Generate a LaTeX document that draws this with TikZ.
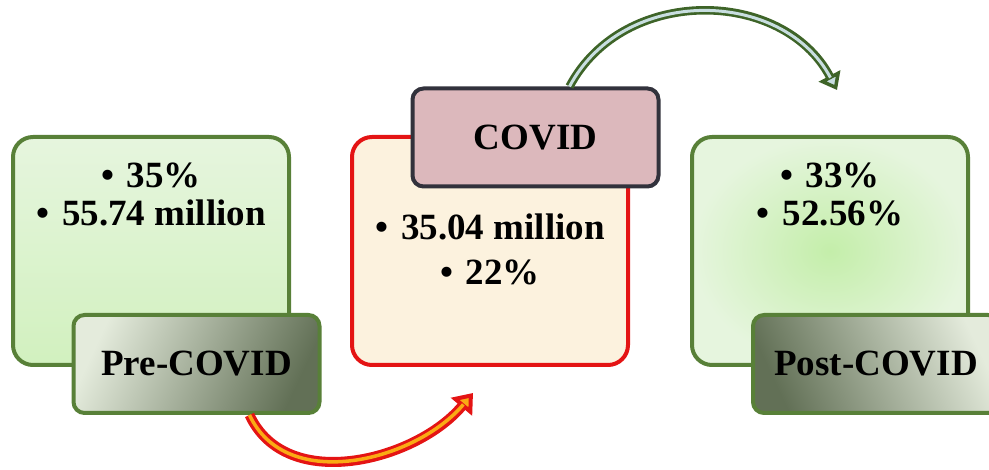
\documentclass[tikz,border=0pt]{standalone}
\usepackage{fontspec}
\setmainfont{Liberation Serif}
\usepackage{tikz}
\usetikzlibrary{arrows.meta}

\definecolor{boxgreen}{RGB}{88,128,56}
\definecolor{lightgreen}{RGB}{230,245,222}
\definecolor{midgreen}{RGB}{196,238,170}
\definecolor{labdark}{RGB}{98,112,86}
\definecolor{lablight}{RGB}{228,235,220}
\definecolor{covidred}{RGB}{228,20,20}
\definecolor{cream}{RGB}{252,242,222}
\definecolor{rose}{RGB}{220,184,188}
\definecolor{slate}{RGB}{50,50,60}
\definecolor{arrowgreen}{RGB}{62,100,40}
\definecolor{paleblue}{RGB}{200,222,224}
\definecolor{innerorange}{RGB}{250,170,20}

\newcommand{\bul}{•\hspace{0.35em}}

\begin{document}
\begin{tikzpicture}[x=1pt,y=1pt,
  txt/.style={font=\bfseries\fontsize{37}{38}\selectfont, align=center},
  bigbox/.style={rounded corners=20pt, minimum width=276pt, minimum height=228pt, line width=4pt},
  labbox/.style={rounded corners=11pt, minimum width=246pt, minimum height=98pt, line width=4pt, inner sep=0pt, txt}]
\useasboundingbox (0,0) rectangle (989,470);
\clip (0,0) rectangle (989,470);

% before
\node[bigbox, draw=boxgreen, top color=lightgreen, bottom color=midgreen!60!lightgreen] (prebox) at (151,219) {};
\node[txt] (pretext) at (151,276) {\bul 35\%\\\bul 55.74 million};
\node[labbox, draw=boxgreen, left color=lablight, middle color=lablight!85!labdark, right color=labdark, shading angle=65] (prelab) at (196.5,106) {Pre-COVID};

% during
\node[bigbox, draw=covidred, fill=cream] (covidbox) at (490,219) {};
\node[txt] (covidtext) at (490,221) {\bul 35.04 million\\[7pt]\bul 22\%};
\node[labbox, draw=slate, fill=rose] (covidlab) at (535.5,332.5) {COVID};

% after
\node[bigbox, draw=boxgreen, inner color=midgreen, outer color=lightgreen] (postbox) at (830,219) {};
\node[txt] (posttext) at (830,276) {\bul 33\%\\\bul 52.56\%};
\node[labbox, draw=boxgreen, left color=labdark, middle color=lablight!85!labdark, right color=lablight, shading angle=115] (postlab) at (876,106) {Post-COVID};

\coordinate (redtip) at (473,77);
\coordinate (greentip) at (837,380);

\draw[covidred, line width=10pt, -{Triangle[length=18pt,width=27pt,fill=innerorange,line width=4pt]}]
  ([xshift=53pt]prelab.south) to[out=-65,in=-130] (redtip);
\draw[innerorange, line width=3.5pt, shorten >=15pt]
  ([xshift=53pt]prelab.south) to[out=-65,in=-130] (redtip);

\draw[arrowgreen, line width=8.5pt, -{Triangle[length=16pt,width=24pt,fill=paleblue,line width=3.5pt]}]
  ([xshift=34pt]covidlab.north) to[out=62,in=118,looseness=1.1] (greentip);
\draw[paleblue, line width=3pt, shorten >=14pt]
  ([xshift=34pt]covidlab.north) to[out=62,in=118,looseness=1.1] (greentip);
%\draw (prelab.south east) -- (covidbox.south west);
\end{tikzpicture}
\end{document}
